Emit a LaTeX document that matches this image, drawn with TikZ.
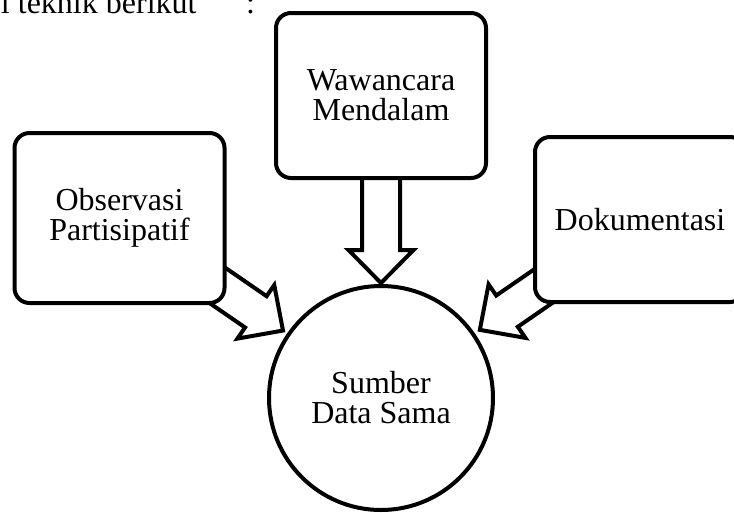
\documentclass[tikz,border=0pt]{standalone}
\usepackage{fontspec}
\setmainfont{Liberation Serif}
\usetikzlibrary{calc,backgrounds}
\begin{document}
\begin{tikzpicture}[x=1pt,y=-1pt,line width=4pt,
  lbl/.style={font={\fontsize{32}{30}\selectfont}},
  box/.style={lbl,draw,fill=white,rounded corners=15pt,minimum width=210pt,
    minimum height=167pt,align=center,inner sep=0pt},
  circ/.style={lbl,draw,fill=white,circle,minimum size=224pt,align=center,inner sep=0pt},
  blockarrow/.style={draw,fill=white,line width=4pt,line join=miter,
    to path={let \p1=(\tikztostart), \p2=(\tikztotarget),
      \p3=($(\tikztotarget)!33pt!(\tikztostart)$) in
      ($(\p1)!19pt!90:(\p2)$) -- ($(\p3)!19pt!-90:(\p1)$)
      -- ($(\p3)!32.5pt!-90:(\p1)$) -- (\p2)
      -- ($(\p3)!32.5pt!90:(\p1)$) -- ($(\p3)!19pt!90:(\p1)$)
      -- ($(\p1)!19pt!-90:(\p2)$) -- cycle}}
]
\useasboundingbox (0,0) rectangle (734,512);

\node[lbl,anchor=base west,inner sep=0pt] (intro) at (-1,13) {i teknik berikut};
\node[lbl,anchor=base west,inner sep=0pt] (colon) at (244,13) {:};

\node[box,minimum height=170pt] (obs) at (119.5,218) {Observasi\\Partisipatif};
\node[box,minimum height=165pt] (waw) at (381,95.5) {Wawancara\\Mendalam};
\node[box,minimum height=165pt] (dok) at (640,219.5) {Dokumentasi};
\node[circ] (sds) at (381,398) {Sumber\\Data Sama};

\coordinate (tipL) at ($(obs)!198.5pt!(sds)$);
\coordinate (tipT) at ($(waw)!187.5pt!(sds)$);
\coordinate (tipR) at ($(dok)!194.5pt!(sds)$);

\begin{scope}[on background layer]
  \draw[blockarrow] (obs) to (tipL);
  \draw[blockarrow] (waw) to (tipT);
  \draw[blockarrow] (dok) to (tipR);
\end{scope}
\end{tikzpicture}
\end{document}
